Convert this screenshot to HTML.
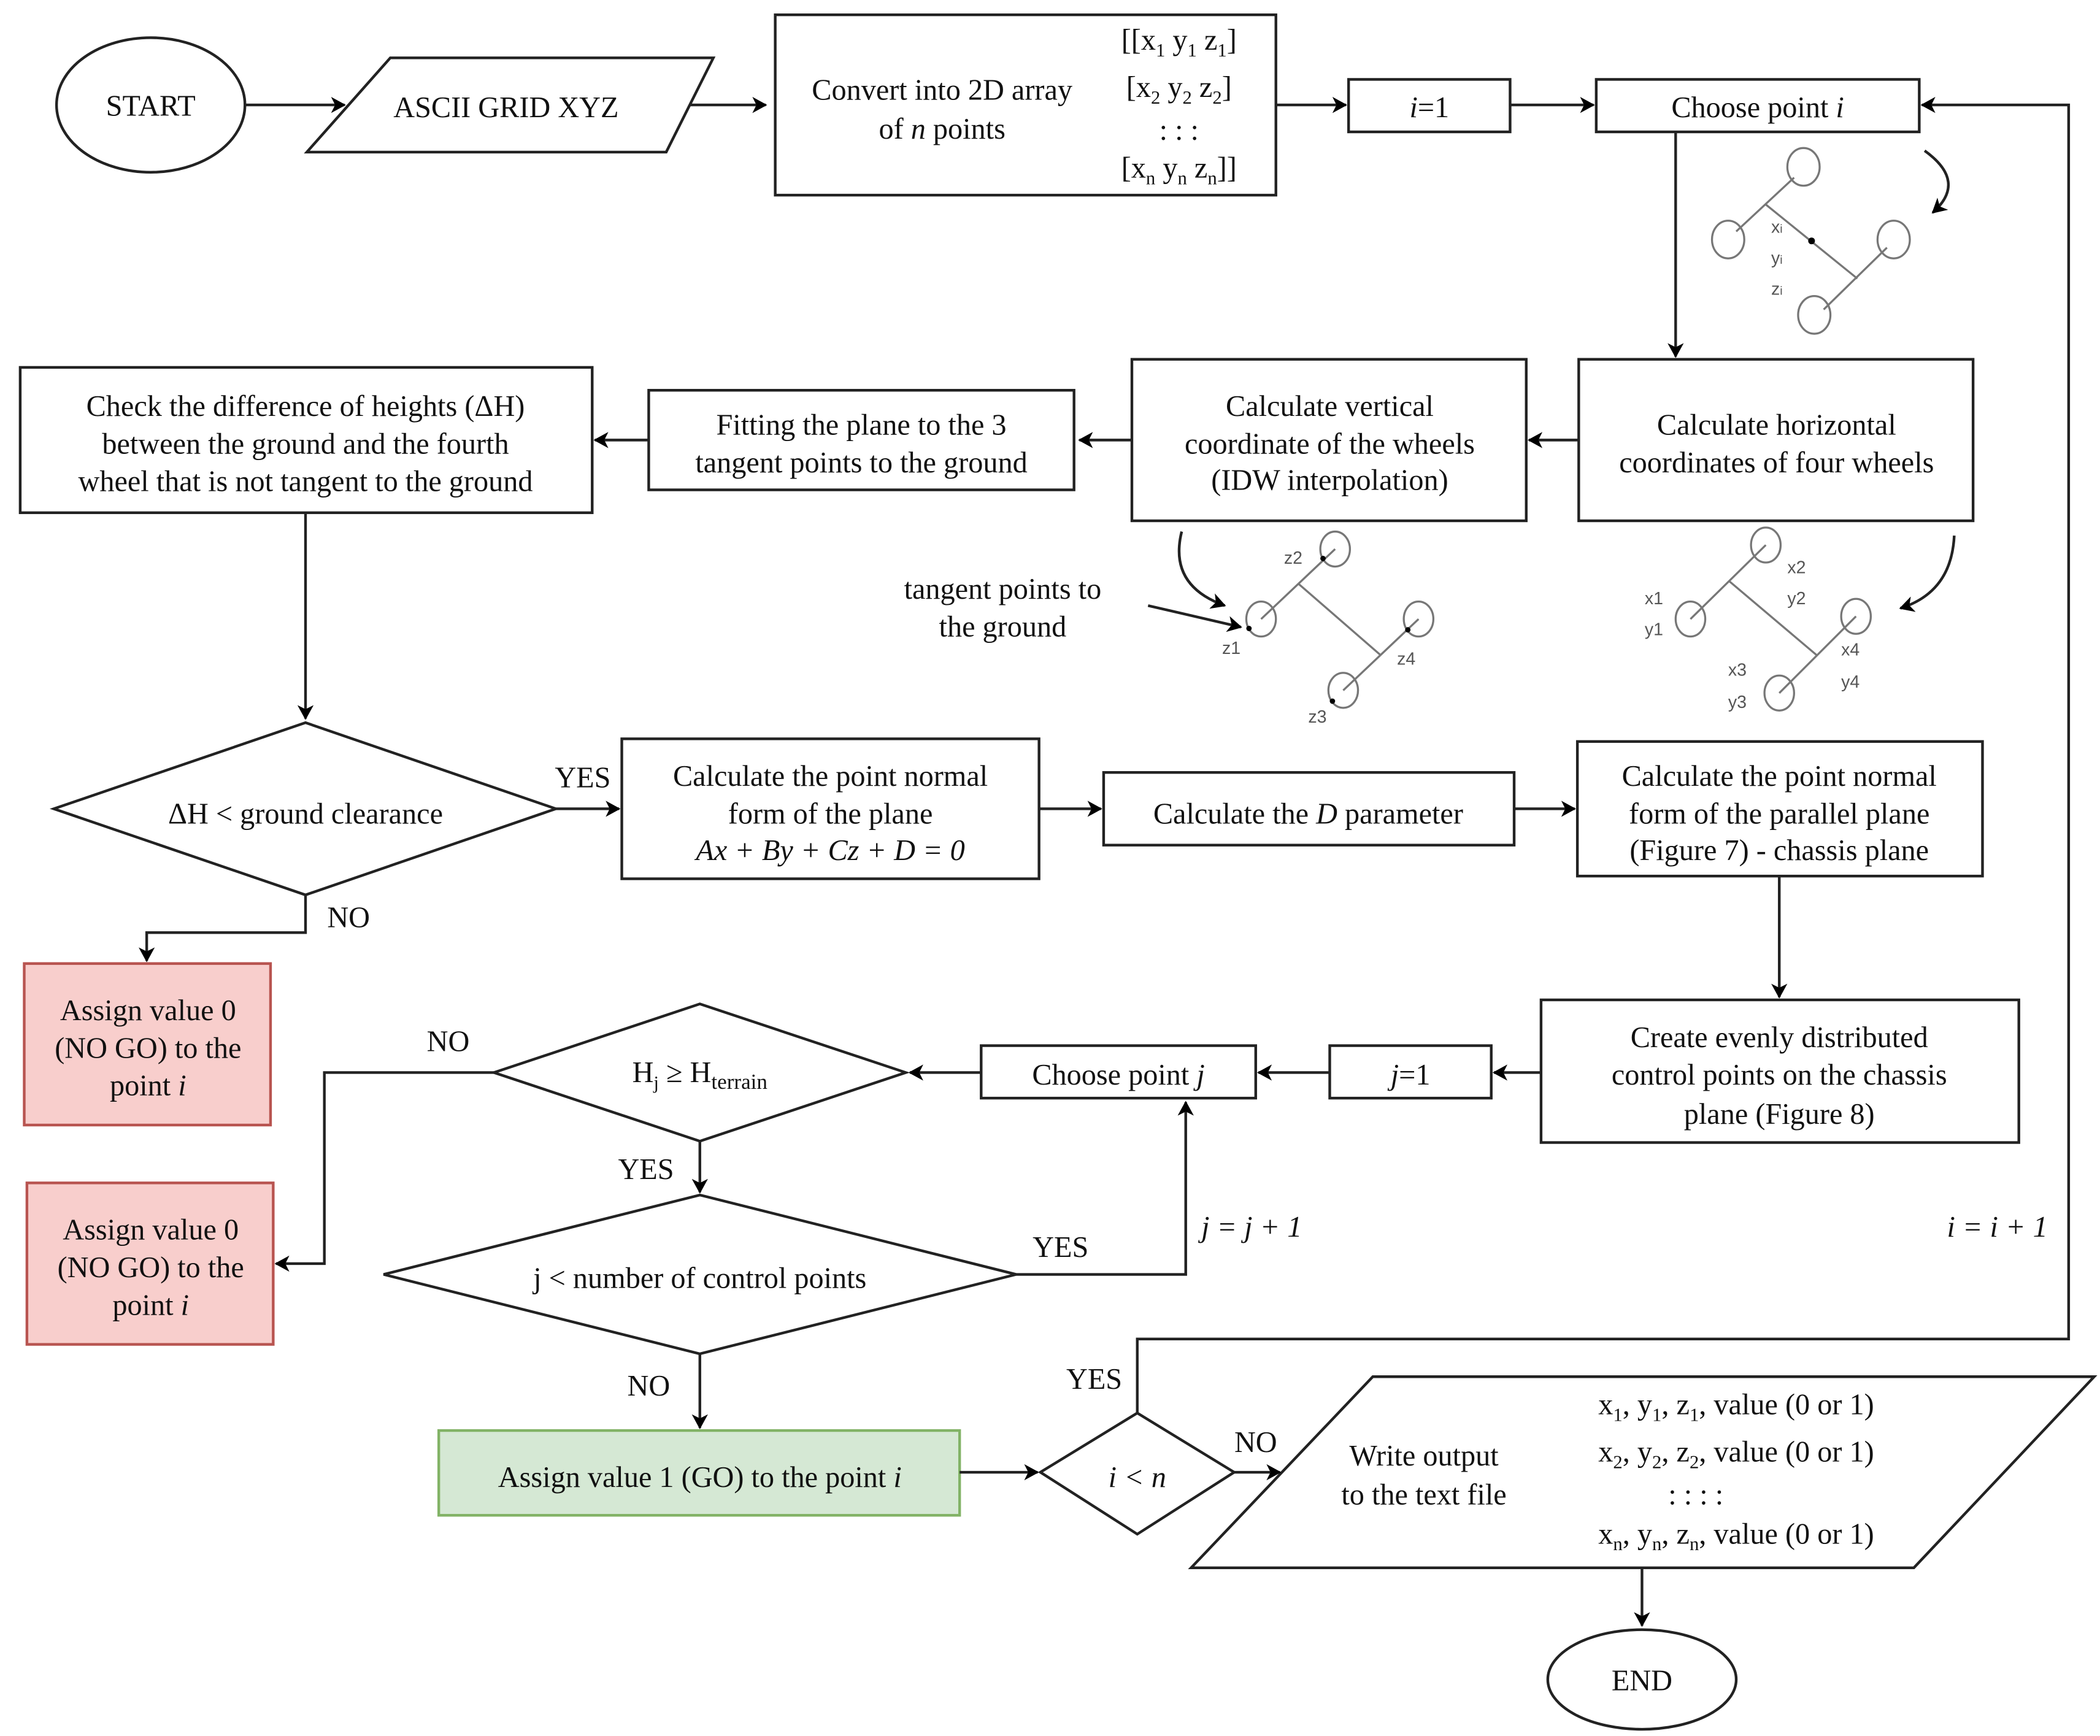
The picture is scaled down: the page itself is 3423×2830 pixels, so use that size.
<!DOCTYPE html>
<html><head><meta charset="utf-8"><style>
html,body{margin:0;padding:0;background:#fff;}
svg{display:block;}
text{font-family:"Liberation Serif",serif;font-size:22px;fill:#111;}
.s{font-family:"Liberation Sans",sans-serif;font-size:13px;fill:#555;}
</style></head><body>
<svg width="3423" height="2830" viewBox="0 0 1560.3 1290" preserveAspectRatio="none" xmlns="http://www.w3.org/2000/svg">
<defs>
<marker id="a" markerWidth="12" markerHeight="12" refX="10" refY="6" orient="auto" markerUnits="userSpaceOnUse">
<path d="M0,0 L11,6 L0,12 L3,6 Z" fill="#000"/></marker>
</defs>
<g fill="#fff" stroke="#222" stroke-width="2">
<ellipse cx="112" cy="78" rx="70" ry="50"/>
<polygon points="290,43 530,43 495,113 228,113"/>
<rect x="576" y="11" width="372" height="134"/>
<rect x="1002" y="59" width="120" height="39"/>
<rect x="1186" y="59" width="240" height="39"/>
<rect x="1173" y="267" width="293" height="120"/>
<rect x="841" y="267" width="293" height="120"/>
<rect x="482" y="290" width="316" height="74"/>
<rect x="15" y="273" width="425" height="108"/>
<polygon points="40,601 227,537 413,601 227,665"/>
<rect x="462" y="549" width="310" height="104"/>
<rect x="820" y="574" width="305" height="54"/>
<rect x="1172" y="551" width="301" height="100"/>
<rect x="1145" y="743" width="355" height="106"/>
<rect x="988" y="777" width="120" height="39"/>
<rect x="729" y="777" width="204" height="39"/>
<polygon points="367,797 520,746 673,797 520,848"/>
<polygon points="285,947 520,888 755,947 520,1006"/>
<polygon points="773,1094 845,1050 917,1094 845,1140"/>
<polygon points="1020,1023 1556,1023 1422,1165 885,1165"/>
<ellipse cx="1220" cy="1248" rx="70" ry="37"/>
<rect x="18" y="716" width="183" height="120" fill="#f8cecc" stroke="#b85450"/>
<rect x="20" y="879" width="183" height="120" fill="#f8cecc" stroke="#b85450"/>
<rect x="326" y="1063" width="387" height="63" fill="#d5e8d4" stroke="#82b366"/>
</g>
<g fill="none" stroke="#222" stroke-width="2" marker-end="url(#a)">
<path d="M182,78 H256"/>
<path d="M512,78 H569"/>
<path d="M948,78 H1000"/>
<path d="M1122,78 H1184"/>
<path d="M845,1050 V995 H1537 V78 H1428"/>
<path d="M1245,98 V265"/>
<path d="M1173,327 H1136"/>
<path d="M841,327 H802"/>
<path d="M482,327 H442"/>
<path d="M227,381 V534"/>
<path d="M413,601 H460"/>
<path d="M772,601 H818"/>
<path d="M1125,601 H1170"/>
<path d="M1322,651 V741"/>
<path d="M1145,797 H1110"/>
<path d="M988,797 H935"/>
<path d="M729,797 H676"/>
<path d="M367,797 H241 V939 H205"/>
<path d="M520,848 V886"/>
<path d="M755,947 H881 V819"/>
<path d="M520,1006 V1061"/>
<path d="M713,1094 H771"/>
<path d="M917,1094 H951"/>
<path d="M1220,1165 V1208"/>
<path d="M227,665 V693 H109 V714"/>
<path d="M1430,112 Q1462,135 1436,158"/>
<path d="M878,395 Q868,435 910,450"/>
<path d="M853,450 L922,466"/>
<path d="M1452,398 Q1450,440 1412,452"/>
</g>
<g fill="none" stroke="#777" stroke-width="1.5">
<ellipse cx="1340" cy="124" rx="12" ry="14"/><ellipse cx="1284" cy="178" rx="12" ry="14"/>
<ellipse cx="1407" cy="178" rx="12" ry="14"/><ellipse cx="1348" cy="234" rx="12" ry="14"/>
<path d="M1333,132 L1290,172 M1312,152 L1380,207 M1402,184 L1355,230"/>
<ellipse cx="992" cy="408" rx="11" ry="13"/><ellipse cx="937" cy="460" rx="11" ry="13"/>
<ellipse cx="1054" cy="460" rx="11" ry="13"/><ellipse cx="998" cy="513" rx="11" ry="13"/>
<path d="M992,408 L937,460 M965,434 L1026,487 M1054,460 L998,513"/>
<ellipse cx="1312" cy="405" rx="11" ry="13"/><ellipse cx="1256" cy="460" rx="11" ry="13"/>
<ellipse cx="1379" cy="458" rx="11" ry="13"/><ellipse cx="1322" cy="515" rx="11" ry="13"/>
<path d="M1312,405 L1256,460 M1285,432 L1350,487 M1379,458 L1322,515"/>
</g>
<g fill="#000"><circle cx="1346" cy="179" r="2.5"/><circle cx="983" cy="415" r="2"/><circle cx="928" cy="467" r="2"/><circle cx="1046" cy="468" r="2"/><circle cx="990" cy="521" r="2"/></g>
<g class="s">
<text class="s" x="1316" y="173">x<tspan font-size="9">i</tspan></text>
<text class="s" x="1316" y="196">y<tspan font-size="9">i</tspan></text>
<text class="s" x="1316" y="219">z<tspan font-size="9">i</tspan></text>
<text class="s" x="954" y="419">z2</text><text class="s" x="908" y="486">z1</text>
<text class="s" x="1038" y="494">z4</text><text class="s" x="972" y="537">z3</text>
<text class="s" x="1328" y="426">x2</text><text class="s" x="1328" y="449">y2</text>
<text class="s" x="1222" y="449">x1</text><text class="s" x="1222" y="472">y1</text>
<text class="s" x="1284" y="502">x3</text><text class="s" x="1284" y="526">y3</text>
<text class="s" x="1368" y="487">x4</text><text class="s" x="1368" y="511">y4</text>
</g>
<g text-anchor="middle">
<text x="112" y="86">START</text>
<text x="376" y="87">ASCII GRID XYZ</text>
<text x="700" y="74">Convert into 2D array</text>
<text x="700" y="103">of <tspan font-style="italic">n</tspan> points</text>
<text x="876" y="37">[[x<tspan font-size="14" dy="5">1</tspan><tspan dy="-5"> y</tspan><tspan font-size="14" dy="5">1</tspan><tspan dy="-5"> z</tspan><tspan font-size="14" dy="5">1</tspan><tspan dy="-5">]</tspan></text>
<text x="876" y="72">[x<tspan font-size="14" dy="5">2</tspan><tspan dy="-5"> y</tspan><tspan font-size="14" dy="5">2</tspan><tspan dy="-5"> z</tspan><tspan font-size="14" dy="5">2</tspan><tspan dy="-5">]</tspan></text>
<text x="876" y="104">:    :    :</text>
<text x="876" y="132">[x<tspan font-size="14" dy="5">n</tspan><tspan dy="-5"> y</tspan><tspan font-size="14" dy="5">n</tspan><tspan dy="-5"> z</tspan><tspan font-size="14" dy="5">n</tspan><tspan dy="-5">]]</tspan></text>
<text x="1062" y="87"><tspan font-style="italic">i</tspan>=1</text>
<text x="1306" y="87">Choose point <tspan font-style="italic">i</tspan></text>
<text x="1320" y="323">Calculate horizontal</text>
<text x="1320" y="351">coordinates of four wheels</text>
<text x="988" y="309">Calculate vertical</text>
<text x="988" y="337">coordinate of the wheels</text>
<text x="988" y="364">(IDW interpolation)</text>
<text x="640" y="323">Fitting the plane to the 3</text>
<text x="640" y="351">tangent points to the ground</text>
<text x="227" y="309">Check the difference of heights (ΔH)</text>
<text x="227" y="337">between the ground and the fourth</text>
<text x="227" y="365">wheel that is not tangent to the ground</text>
<text x="745" y="445">tangent points to</text>
<text x="745" y="473">the ground</text>
<text x="227" y="612">ΔH &lt; ground clearance</text>
<text x="433" y="585">YES</text>
<text x="617" y="584">Calculate the point normal</text>
<text x="617" y="612">form of the plane</text>
<text x="617" y="639" font-style="italic">Ax + By + Cz + D = 0</text>
<text x="972" y="612">Calculate the <tspan font-style="italic">D</tspan> parameter</text>
<text x="1322" y="584">Calculate the point normal</text>
<text x="1322" y="612">form of the parallel plane</text>
<text x="1322" y="639">(Figure 7) - chassis plane</text>
<text x="259" y="689">NO</text>
<text x="110" y="758">Assign value 0</text>
<text x="110" y="786">(NO GO) to the</text>
<text x="110" y="814">point <tspan font-style="italic">i</tspan></text>
<text x="1322" y="778">Create evenly distributed</text>
<text x="1322" y="806">control points on the chassis</text>
<text x="1322" y="835">plane (Figure 8)</text>
<text x="1048" y="806"><tspan font-style="italic">j</tspan>=1</text>
<text x="831" y="806">Choose point <tspan font-style="italic">j</tspan></text>
<text x="520" y="804">H<tspan font-size="14" dy="5">j</tspan><tspan dy="-5"> ≥ H</tspan><tspan font-size="16" dy="5">terrain</tspan></text>
<text x="333" y="781">NO</text>
<text x="112" y="921">Assign value 0</text>
<text x="112" y="949">(NO GO) to the</text>
<text x="112" y="977">point <tspan font-style="italic">i</tspan></text>
<text x="480" y="876">YES</text>
<text x="520" y="957">j &lt; number of control points</text>
<text x="788" y="934">YES</text>
<text x="930" y="919" font-style="italic">j = j + 1</text>
<text x="1484" y="919" font-style="italic">i = i + 1</text>
<text x="482" y="1037">NO</text>
<text x="520" y="1105">Assign value 1 (GO) to the point <tspan font-style="italic">i</tspan></text>
<text x="845" y="1105" font-style="italic">i &lt; n</text>
<text x="813" y="1032">YES</text>
<text x="933" y="1079">NO</text>
<text x="1058" y="1089">Write output</text>
<text x="1058" y="1118">to the text file</text>
<text x="1290" y="1051">x<tspan font-size="14" dy="5">1</tspan><tspan dy="-5">, y</tspan><tspan font-size="14" dy="5">1</tspan><tspan dy="-5">, z</tspan><tspan font-size="14" dy="5">1</tspan><tspan dy="-5">, value (0 or 1)</tspan></text>
<text x="1290" y="1086">x<tspan font-size="14" dy="5">2</tspan><tspan dy="-5">, y</tspan><tspan font-size="14" dy="5">2</tspan><tspan dy="-5">, z</tspan><tspan font-size="14" dy="5">2</tspan><tspan dy="-5">, value (0 or 1)</tspan></text>
<text x="1260" y="1118">:       :      :                    :</text>
<text x="1290" y="1147">x<tspan font-size="14" dy="5">n</tspan><tspan dy="-5">, y</tspan><tspan font-size="14" dy="5">n</tspan><tspan dy="-5">, z</tspan><tspan font-size="14" dy="5">n</tspan><tspan dy="-5">, value (0 or 1)</tspan></text>
<text x="1220" y="1256">END</text>
</g>
</svg>
</body></html>
